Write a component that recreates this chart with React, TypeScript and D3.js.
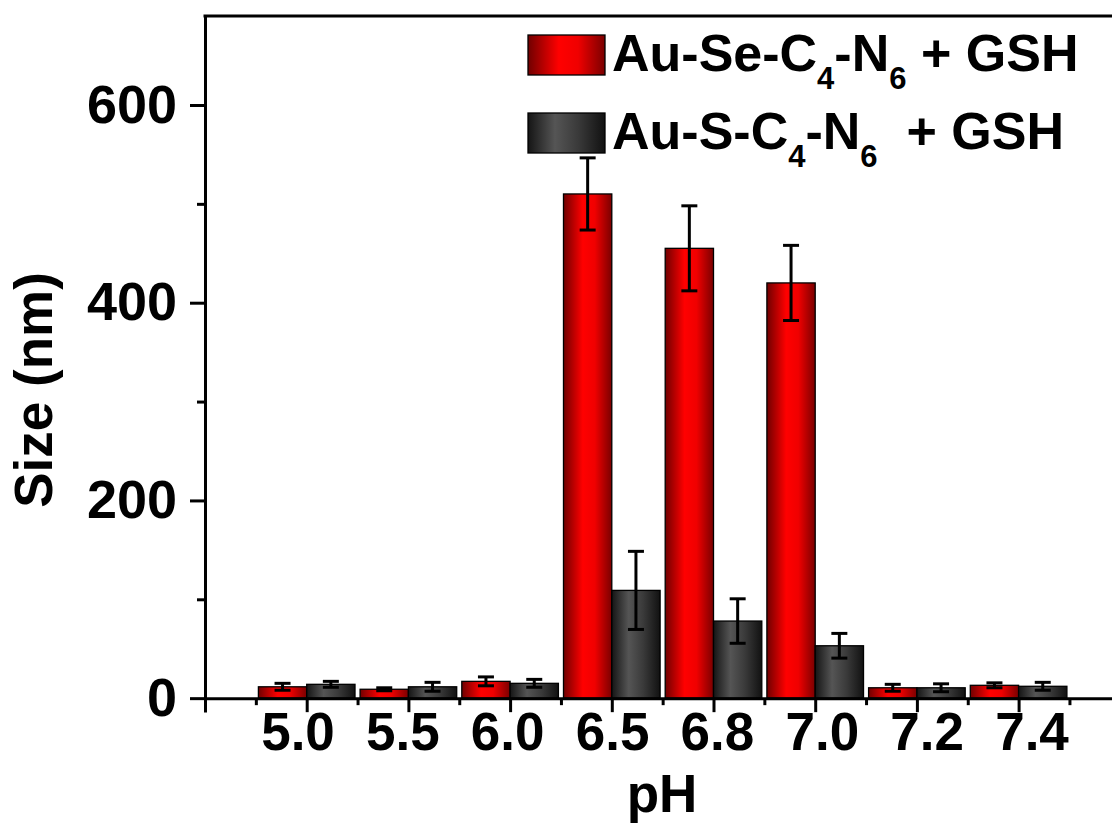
import React, { useRef, useEffect } from 'react';
import * as d3 from 'd3';

// pH categories and measured particle size (nm) with error
const categories = ['5.0', '5.5', '6.0', '6.5', '6.8', '7.0', '7.2', '7.4'];
const seSize = [11.5, 9, 17, 510, 455, 420, 10.5, 13];
const seErr = [3.5, 1.5, 4.5, 36.5, 43, 38, 3.5, 2.5];
const sSize = [14, 11.5, 15, 109, 78, 53, 10.5, 12];
const sErr = [3, 4.5, 4, 39.5, 22.5, 12.5, 4, 4];

const yMajorTicks = [0, 200, 400, 600];
const yMinorTicks = [100, 300, 500];

// legend text pieces, sub = subscript
const seLabel = [
    { t: 'Au-Se-C' }, { t: '4', sub: true }, { t: '-N' }, { t: '6', sub: true }, { t: ' + GSH' }
];
const sLabel = [
    { t: 'Au-S-C' }, { t: '4', sub: true }, { t: '-N' }, { t: '6', sub: true }, { t: '  + GSH' }
];

const FONT = "'Liberation Sans', Arial, Helvetica, sans-serif";
const svg_width = 1112;
const svg_height = 830;

const App = () => {
    const svgRef = useRef(null);

    useEffect(() => {
        const svg = d3.select(svgRef.current);
        svg.selectAll('*').remove();

        // Scales
        const x = d3.scaleLinear()
            .domain([-1, categories.length])
            .range([205, 205 + 101.7 * (categories.length + 1)]);
        const labelX = d3.scalePoint()
            .domain(categories)
            .range([298, 1032]);
        const y = d3.scaleLinear()
            .domain([-14, 690])
            .range([712, 16]);

        // Gradients
        const defs = svg.append('defs');
        const red = defs.append('linearGradient').attr('id', 'gRed')
            .attr('x1', 0).attr('x2', 1).attr('y1', 0).attr('y2', 0);
        red.append('stop').attr('offset', '0%').attr('stop-color', '#700000');
        red.append('stop').attr('offset', '40%').attr('stop-color', '#ff0000');
        red.append('stop').attr('offset', '65%').attr('stop-color', '#f00000');
        red.append('stop').attr('offset', '100%').attr('stop-color', '#7a0000');
        const dark = defs.append('linearGradient').attr('id', 'gDark')
            .attr('x1', 0).attr('x2', 1).attr('y1', 0).attr('y2', 0);
        dark.append('stop').attr('offset', '0%').attr('stop-color', '#151515');
        dark.append('stop').attr('offset', '35%').attr('stop-color', '#555555');
        dark.append('stop').attr('offset', '65%').attr('stop-color', '#3a3a3a');
        dark.append('stop').attr('offset', '100%').attr('stop-color', '#111111');

        const bw = 0.475;
        const series = [
            { vals: seSize, errs: seErr, fill: 'url(#gRed)', off: -bw },
            { vals: sSize, errs: sErr, fill: 'url(#gDark)', off: 0 }
        ];

        // Bars
        series.forEach(s => {
            svg.append('g').selectAll('rect')
                .data(s.vals)
                .enter()
                .append('rect')
                    .attr('x', (d, i) => x(i + s.off))
                    .attr('y', d => y(d))
                    .attr('width', x(bw) - x(0))
                    .attr('height', d => y(0) - y(d))
                    .attr('fill', s.fill)
                    .attr('stroke', '#000')
                    .attr('stroke-width', 1.3);
        });

        // Error bars
        series.forEach(s => {
            const g = svg.append('g').attr('stroke', '#000').attr('stroke-width', 3);
            s.vals.forEach((v, i) => {
                const cx = x(i + s.off + bw / 2);
                const hi = y(v + s.errs[i]);
                const lo = y(v - s.errs[i]);
                g.append('line').attr('x1', cx).attr('x2', cx).attr('y1', hi).attr('y2', lo);
                g.append('line').attr('x1', cx - 8).attr('x2', cx + 8).attr('y1', hi).attr('y2', hi);
                g.append('line').attr('x1', cx - 8).attr('x2', cx + 8).attr('y1', lo).attr('y2', lo);
            });
        });

        // X axis (at y = 0)
        const xMajor = d3.axisBottom(x)
            .tickValues(categories.map((c, i) => i))
            .tickSize(14).tickSizeOuter(0).tickFormat(() => '');
        const xMinor = d3.axisBottom(x)
            .tickValues(d3.range(categories.length + 1).map(i => i - 0.5))
            .tickSize(7).tickSizeOuter(0).tickFormat(() => '');
        const gx = svg.append('g').attr('transform', `translate(0,${y(0)})`).call(xMajor);
        svg.append('g').attr('transform', `translate(0,${y(0)})`).call(xMinor)
            .select('.domain').remove();
        gx.select('.domain').attr('stroke-width', 3);
        svg.selectAll('.tick line').attr('stroke-width', 3);

        // X tick labels
        svg.append('g').selectAll('text')
            .data(categories)
            .enter()
            .append('text')
                .attr('x', d => labelX(d))
                .attr('y', 750)
                .attr('text-anchor', 'middle')
                .attr('font-family', FONT)
                .attr('font-weight', 'bold')
                .attr('font-size', 53)
                .text(d => d);

        // Y axis
        const yAxis = d3.axisLeft(y)
            .tickValues(yMajorTicks)
            .tickSize(15).tickSizeOuter(0).tickPadding(13)
            .tickFormat(d3.format('d'));
        const yMinor = d3.axisLeft(y)
            .tickValues(yMinorTicks)
            .tickSize(8).tickSizeOuter(0).tickFormat(() => '');
        const gy = svg.append('g').attr('transform', `translate(${x(-1)},0)`).call(yAxis);
        const gym = svg.append('g').attr('transform', `translate(${x(-1)},0)`).call(yMinor);
        gym.select('.domain').remove();
        gy.select('.domain').attr('stroke-width', 3);
        gy.selectAll('.tick line').attr('stroke-width', 3);
        gym.selectAll('.tick line').attr('stroke-width', 3);
        gy.selectAll('.tick text')
            .attr('font-family', FONT)
            .attr('font-weight', 'bold')
            .attr('font-size', 54)
            .attr('fill', '#000');

        // Top border
        svg.append('line')
            .attr('x1', x(-1) - 1.5).attr('x2', svg_width)
            .attr('y1', y(690)).attr('y2', y(690))
            .attr('stroke', '#000').attr('stroke-width', 3);

        // Axis titles
        svg.append('text')
            .attr('transform', `translate(52,390) rotate(-90)`)
            .attr('text-anchor', 'middle')
            .attr('font-family', FONT).attr('font-weight', 'bold').attr('font-size', 53)
            .text('Size (nm)');
        svg.append('text')
            .attr('x', 662).attr('y', 812)
            .attr('text-anchor', 'middle')
            .attr('font-family', FONT).attr('font-weight', 'bold').attr('font-size', 53)
            .text('pH');

        // Legend
        const legend = [
            { parts: seLabel, fill: 'url(#gRed)', top: 35 },
            { parts: sLabel, fill: 'url(#gDark)', top: 113 }
        ];
        legend.forEach(l => {
            svg.append('rect')
                .attr('x', 528).attr('y', l.top).attr('width', 77).attr('height', 40)
                .attr('fill', l.fill).attr('stroke', '#000').attr('stroke-width', 1.3);
            const t = svg.append('text')
                .attr('x', 612).attr('y', l.top + 36)
                .attr('font-family', FONT).attr('font-weight', 'bold').attr('font-size', 52)
                .style('white-space', 'pre');
            let shifted = false;
            l.parts.forEach(p => {
                const span = t.append('tspan').text(p.t);
                if (p.sub) {
                    span.attr('font-size', 31).attr('dy', 18);
                    shifted = true;
                } else if (shifted) {
                    span.attr('dy', -18);
                    shifted = false;
                }
            });
        });
    }, []);

    return (
        <svg ref={svgRef} width={svg_width} height={svg_height}
            style={{ position: 'absolute', left: 0, top: 0, background: '#fff' }}>
        </svg>
    );
};

export default App;
